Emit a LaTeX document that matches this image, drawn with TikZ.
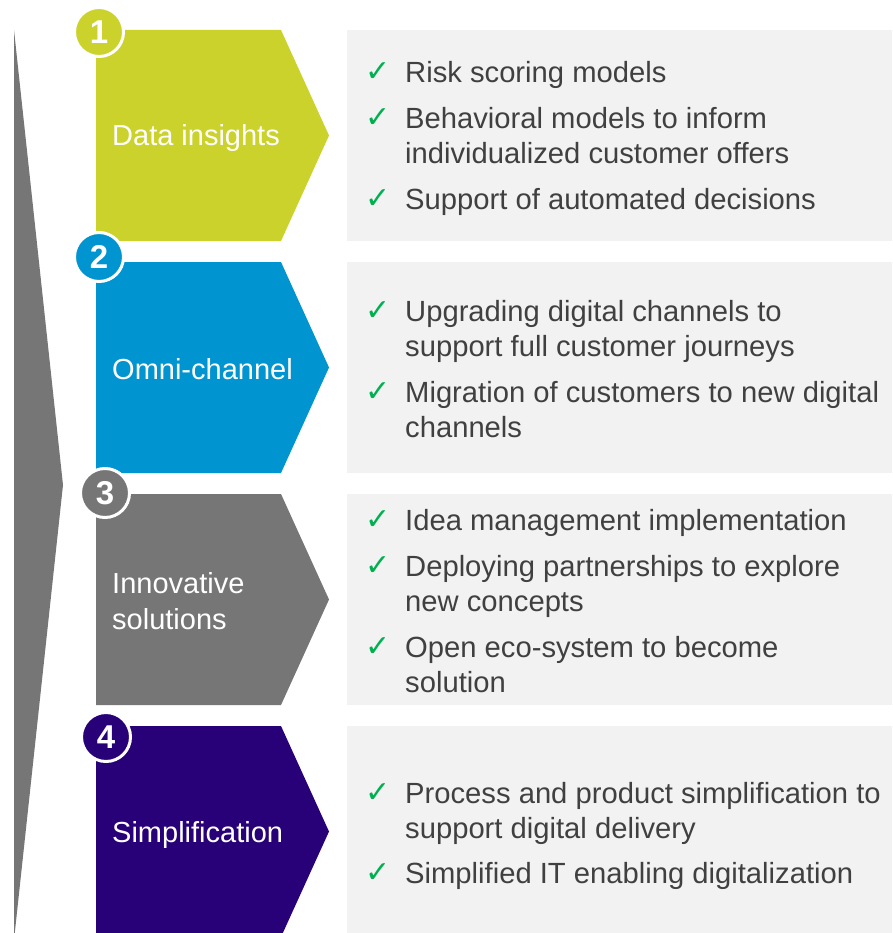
\documentclass[tikz,border=0pt]{standalone}
\usepackage{fontspec}
\setmainfont{Liberation Sans}
\newfontfamily\djv{DejaVu Sans}
\definecolor{cgreen}{HTML}{CBD22C}
\definecolor{cblue}{HTML}{0095D0}
\definecolor{cgray}{HTML}{767676}
\definecolor{cpurple}{HTML}{280077}
\definecolor{clight}{HTML}{F2F2F2}
\definecolor{ctext}{HTML}{404040}
\definecolor{ccheck}{HTML}{00B050}
\tikzset{
  itemline/.style={anchor=base west, inner sep=0pt, text=ctext, font=\fontsize{29.2}{35}\selectfont},
  tick/.style={anchor=base west, inner sep=0pt, text=ccheck, font=\djv\fontsize{30}{35}\selectfont},
  label/.style={anchor=base west, inner sep=0pt, text=white, font=\fontsize{29}{35}\selectfont},
  numcirc/.style={circle, minimum size=49pt, inner sep=0pt, draw=white, line width=3pt, text=white, font=\bfseries\fontsize{33}{36}\selectfont},
  panel/.style={fill=clight, draw=none},
}
\begin{document}
\begin{tikzpicture}[x=1pt,y=-1pt]
\useasboundingbox (0,0) rectangle (892,933);
\clip (0,0) rectangle (892,933);
\fill[white] (0,0) rectangle (892,933);
% big gray arrow
\fill[cgray] (14,30) -- (63,485) -- (14,940) -- cycle;
% chevrons and panels
\foreach \t/\c in {30/cgreen, 262/cblue, 494/cgray, 726/cpurple}{
  \fill[\c] (96,\t) -- (281,\t) -- (329,\t+105.5) -- (281,\t+211) -- (96,\t+211) -- cycle;
  \fill[clight] (347,\t) rectangle (900,\t+211);
}
% number circles
\node[numcirc, fill=cgreen] (n1) at (99,32) {1};
\node[numcirc, fill=cblue] (n2) at (99,257) {2};
\node[numcirc, fill=cgray] (n3) at (105,493) {3};
\node[numcirc, fill=cpurple] (n4) at (106,737) {4};
% chevron labels
\node[label] (l1) at (112,146) {Data insights};
\node[label] (l2) at (112,379) {Omni-channel};
\node[label] (l3a) at (112,593) {Innovative};
\node[label] (l3b) at (112,629) {solutions};
\node[label] (l4) at (112,842) {Simplification};
% items box 1
\node[tick] (c11) at (365,82) {✓};
\node[itemline] (t11) at (405,83) {Risk scoring models};
\node[tick] (c12) at (365,128) {✓};
\node[itemline] (t12a) at (405,129) {Behavioral models to inform};
\node[itemline] (t12b) at (405,164) {individualized customer offers};
\node[tick] (c13) at (365,209) {✓};
\node[itemline] (t13) at (405,210) {Support of automated decisions};
% items box 2
\node[tick] (c21) at (365,320) {✓};
\node[itemline] (t21a) at (405,321) {Upgrading digital channels to};
\node[itemline] (t21b) at (405,356) {support full customer journeys};
\node[tick] (c22) at (365,401) {✓};
\node[itemline] (t22a) at (405,402) {Migration of customers to new digital};
\node[itemline] (t22b) at (405,437) {channels};
% items box 3
\node[tick] (c31) at (365,529) {✓};
\node[itemline] (t31) at (405,530) {Idea management implementation};
\node[tick] (c32) at (365,575) {✓};
\node[itemline] (t32a) at (405,576) {Deploying partnerships to explore};
\node[itemline] (t32b) at (405,611) {new concepts};
\node[tick] (c33) at (365,656) {✓};
\node[itemline] (t33a) at (405,657) {Open eco-system to become};
\node[itemline] (t33b) at (405,692) {solution};
% items box 4
\node[tick] (c41) at (365,802) {✓};
\node[itemline] (t41a) at (405,803) {Process and product simplification to};
\node[itemline] (t41b) at (405,838) {support digital delivery};
\node[tick] (c42) at (365,882) {✓};
\node[itemline] (t42) at (405,883) {Simplified IT enabling digitalization};
\end{tikzpicture}
\end{document}
